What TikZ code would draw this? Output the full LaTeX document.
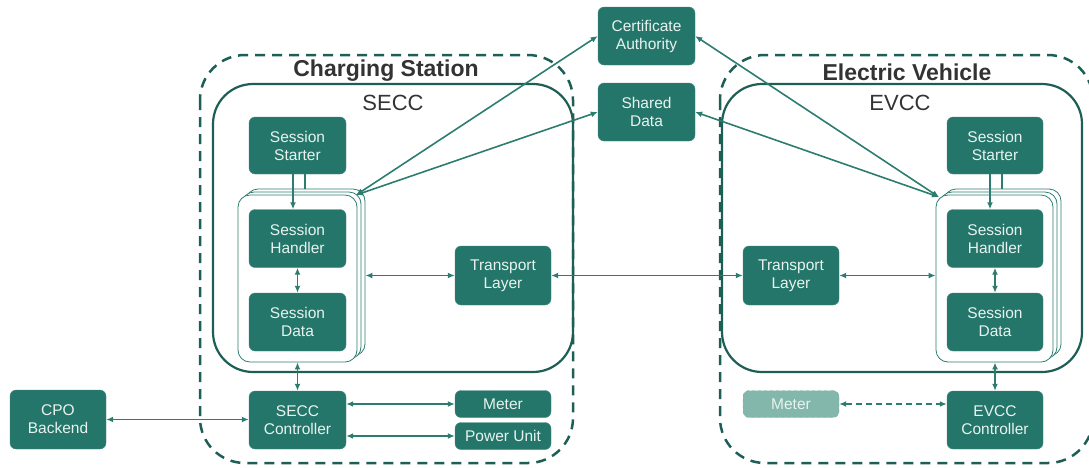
\documentclass[tikz,border=0pt]{standalone}
\usepackage{fontspec}
\setmainfont{Liberation Sans}
\usetikzlibrary{arrows.meta}
\definecolor{boxc}{HTML}{25766A}
\definecolor{linec}{HTML}{2C7D70}
\definecolor{dashc}{HTML}{1E5F55}
\definecolor{titlec}{HTML}{333333}
\definecolor{fadec}{HTML}{83B7AC}
\definecolor{txtc}{HTML}{E8F3EF}
\tikzset{
  blk/.style={fill=boxc, draw=boxc!85!white, line width=0.4pt, rounded corners=6pt, inner sep=0pt, text=txtc,
    font=\fontsize{15.5}{18}\selectfont, align=center},
  fadeblk/.style={blk, fill=fadec, draw=fadec!80!gray, dashed},
  stk/.style={draw=linec, fill=white, line width=0.8pt, rounded corners=12pt, inner sep=0pt},
  conn/.style={draw=linec, line width=1.6pt, {Latex[length=7pt,width=6pt]}-{Latex[length=7pt,width=6pt]}},
  oneway/.style={draw=linec, line width=1.6pt, -{Latex[length=7pt,width=6pt]}},
  plain/.style={draw=linec, line width=1.6pt},
  dashbox/.style={draw=dashc, line width=2.5pt, dash pattern=on 10pt off 7pt, rounded corners=45pt},
  solidbox/.style={draw=dashc, line width=2.2pt, rounded corners=40pt},
  ttl/.style={text=titlec, font=\bfseries\fontsize{23}{27}\selectfont},
  sub/.style={text=titlec, font=\fontsize{22}{26}\selectfont}
}
\begin{document}
\begin{tikzpicture}[x=1pt,y=-1pt]
\useasboundingbox (0,0) rectangle (1089,467);
% containers
\draw[dashbox] (200,55) rectangle (573,463);
\draw[dashbox] (720,55) rectangle (1093,463);
\draw[solidbox] (213,84) rectangle (573,372);
\draw[solidbox] (722,84) rectangle (1082,372);
\node[ttl] (csT) at (386,71) {Charging Station};
\node[ttl] (evT) at (907,72) {Electric Vehicle};
\node[sub] (seccT) at (393,103) {SECC};
\node[sub] (evccT) at (900,103) {EVCC};
% stacks left
\node[stk, minimum width=119pt, minimum height=167pt] (stLb) at (305.5,272.5) {};
\node[stk, minimum width=119pt, minimum height=167pt] (stLm) at (301.5,275.5) {};
\node[stk, minimum width=119pt, minimum height=167pt] (stLf) at (297.5,278.5) {};
% stacks right
\node[stk, minimum width=117pt, minimum height=167pt] (stRb) at (1002.5,272.5) {};
\node[stk, minimum width=117pt, minimum height=167pt] (stRm) at (998.5,275.5) {};
\node[stk, minimum width=117pt, minimum height=167pt] (stRf) at (994.5,278.5) {};
% top
\node[blk, minimum width=97pt, minimum height=58pt] (ca) at (646.5,36) {Certificate\\Authority};
\node[blk, minimum width=97pt, minimum height=58pt] (sd) at (646.5,112) {Shared\\Data};
% left
\node[blk, minimum width=97pt, minimum height=57pt] (ssL) at (297.5,145.5) {Session\\Starter};
\node[blk, minimum width=97pt, minimum height=58pt] (shL) at (297.5,238.5) {Session\\Handler};
\node[blk, minimum width=97pt, minimum height=58pt] (sdL) at (297.5,322) {Session\\Data};
\node[blk, minimum width=96pt, minimum height=59pt] (tlL) at (503,275.5) {Transport\\Layer};
\node[blk, minimum width=97pt, minimum height=58pt] (ctL) at (297.5,420) {SECC\\Controller};
\node[blk, minimum width=96pt, minimum height=27pt] (meL) at (503,404) {Meter};
\node[blk, minimum width=96pt, minimum height=27pt] (pu) at (503,436) {Power Unit};
\node[blk, minimum width=96pt, minimum height=59pt] (cpo) at (58,419.5) {CPO\\Backend};
% right
\node[blk, minimum width=96pt, minimum height=57pt] (ssR) at (995,145.5) {Session\\Starter};
\node[blk, minimum width=96pt, minimum height=58pt] (shR) at (995,238.5) {Session\\Handler};
\node[blk, minimum width=96pt, minimum height=58pt] (sdR) at (995,322) {Session\\Data};
\node[blk, minimum width=96pt, minimum height=59pt] (tlR) at (791,275.5) {Transport\\Layer};
\node[blk, minimum width=96pt, minimum height=58pt] (ctR) at (995,420) {EVCC\\Controller};
\node[fadeblk, minimum width=96pt, minimum height=27pt] (meR) at (791,404) {Meter};
% corner coordinates
\coordinate (cL) at (356,195);
\coordinate (cR) at (939,197);
% connectors
\draw[conn] (cL) -- (ca.west);
\draw[conn] (cL) -- (sd.west);
\draw[conn] (cR) -- (ca.east);
\draw[conn] (cR) -- (sd.east);
\draw[oneway] ([xshift=-4.5pt]ssL.south) -- ([xshift=-4.5pt]shL.north);
\draw[plain] ([xshift=7.5pt]ssL.south) -- ([xshift=7.5pt]ssL.south |- stLb.north);
\draw[oneway] ([xshift=-5pt]ssR.south) -- ([xshift=-5pt]shR.north);
\draw[plain] ([xshift=7pt]ssR.south) -- ([xshift=7pt]ssR.south |- stRb.north);
\draw[conn] (shL.south) -- (sdL.north);
\draw[conn] (shR.south) -- (sdR.north);
\draw[conn] (tlL.west) -- (tlL.west -| stLb.east);
\draw[conn] (tlL.east) -- (tlR.west);
\draw[conn] (tlR.east) -- (tlR.east -| stRf.west);
\draw[conn] (ctL.north) -- (ctL.north |- stLf.south);
\draw[conn] (ctR.north) -- (ctR.north |- stRf.south);
\draw[conn] (ctL.east |- meL.west) -- (meL.west);
\draw[conn] (ctL.east |- pu.west) -- (pu.west);
\draw[conn] (cpo.east) -- (cpo.east -| ctL.west);
\draw[conn, dash pattern=on 6pt off 4pt] (meR.east) -- (meR.east -| ctR.west);
\end{tikzpicture}
\end{document}
